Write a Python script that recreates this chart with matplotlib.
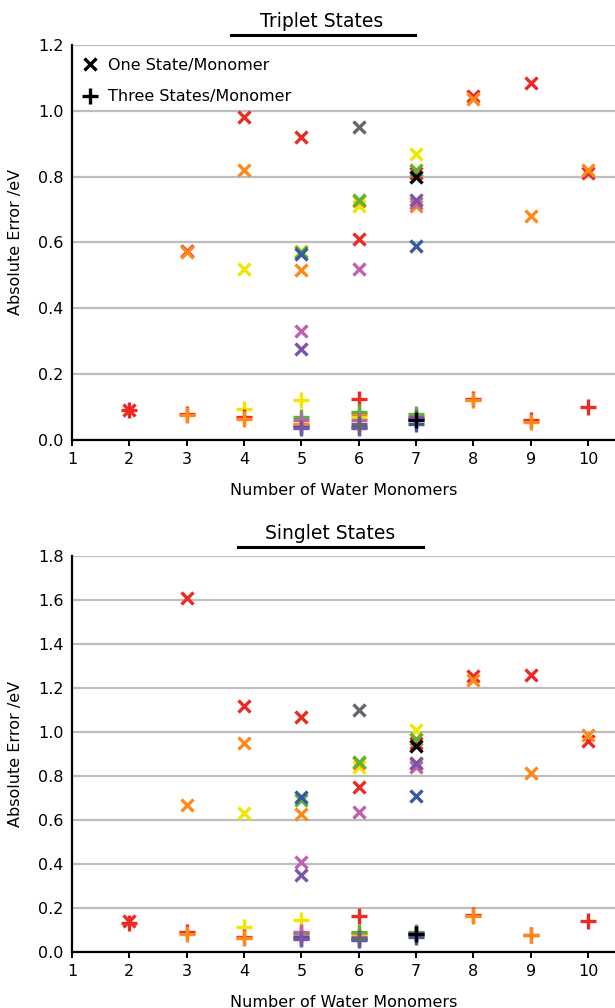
import numpy as np
import matplotlib
matplotlib.use('Agg')
import matplotlib.pyplot as plt
from matplotlib.lines import Line2D

nan = np.nan

# numero de monomeros de agua
n_water = [2, 3, 4, 5, 6, 7, 8, 9, 10]

# colores de cada metodo (en orden de dibujo)
colors = {
    'yellow': '#f2e600',
    'red': '#ee2a24',
    'orange': '#ff8a1c',
    'green': '#5cb531',
    'blue': '#3a58a8',
    'pink': '#c060b0',
    'purple': '#7a55a8',
    'gray': '#66676e',
    'black': '#000000',
}

# tripletes, un estado por monomero (x)
trip_one = {
    'yellow': [nan, nan, 0.52, 0.575, 0.71, 0.87, nan, nan, nan],
    'orange': [nan, 0.57, 0.82, 0.515, 0.725, 0.71, 1.035, 0.68, 0.82],
    'red':    [0.09, 0.575, 0.98, 0.92, 0.61, 0.81, 1.045, 1.085, 0.81],
    'green':  [nan, nan, nan, 0.57, 0.73, 0.82, nan, nan, nan],
    'blue':   [nan, nan, nan, 0.565, nan, 0.59, nan, nan, nan],
    'pink':   [nan, nan, nan, 0.33, 0.52, 0.72, nan, nan, nan],
    'purple': [nan, nan, nan, 0.275, nan, 0.73, nan, nan, nan],
    'gray':   [nan, nan, nan, nan, 0.95, nan, nan, nan, nan],
    'black':  [nan, nan, nan, nan, nan, 0.80, nan, nan, nan],
}

# tripletes, tres estados por monomero (+)
trip_three = {
    'yellow': [nan, nan, 0.095, 0.12, 0.07, 0.07, nan, nan, nan],
    'orange': [nan, 0.075, 0.065, 0.05, 0.08, 0.06, 0.12, 0.055, nan],
    'red':    [0.09, 0.08, 0.07, 0.045, 0.125, 0.065, 0.125, 0.06, 0.10],
    'green':  [nan, nan, nan, 0.07, 0.085, 0.08, nan, nan, nan],
    'blue':   [nan, nan, nan, 0.04, 0.04, 0.05, nan, nan, nan],
    'pink':   [nan, nan, nan, 0.06, 0.06, 0.065, nan, nan, nan],
    'purple': [nan, nan, nan, 0.035, 0.035, 0.07, nan, nan, nan],
    'gray':   [nan, nan, nan, nan, 0.05, nan, nan, nan, nan],
    'black':  [nan, nan, nan, nan, nan, 0.06, nan, nan, nan],
}

# singletes, un estado por monomero (x)
sing_one = {
    'yellow': [nan, nan, 0.63, 0.70, 0.84, 1.01, nan, nan, nan],
    'orange': [nan, 0.67, 0.95, 0.625, 0.86, 0.855, 1.235, 0.815, 0.985],
    'red':    [0.14, 1.61, 1.12, 1.07, 0.75, 0.95, 1.255, 1.26, 0.96],
    'green':  [nan, nan, nan, 0.69, 0.865, 0.97, nan, nan, nan],
    'blue':   [nan, nan, nan, 0.705, nan, 0.71, nan, nan, nan],
    'pink':   [nan, nan, nan, 0.41, 0.635, 0.84, nan, nan, nan],
    'purple': [nan, nan, nan, 0.35, nan, 0.86, nan, nan, nan],
    'gray':   [nan, nan, nan, nan, 1.10, nan, nan, nan, nan],
    'black':  [nan, nan, nan, nan, nan, 0.935, nan, nan, nan],
}

# singletes, tres estados por monomero (+)
sing_three = {
    'yellow': [nan, nan, 0.115, 0.145, 0.08, 0.085, nan, nan, nan],
    'orange': [nan, 0.08, 0.065, 0.08, 0.085, 0.08, 0.165, 0.075, nan],
    'red':    [0.13, 0.09, 0.07, 0.065, 0.165, 0.08, 0.17, 0.075, 0.14],
    'green':  [nan, nan, nan, 0.085, 0.09, 0.09, nan, nan, nan],
    'blue':   [nan, nan, nan, 0.07, 0.055, 0.07, nan, nan, nan],
    'pink':   [nan, nan, nan, 0.09, 0.07, 0.08, nan, nan, nan],
    'purple': [nan, nan, nan, 0.06, 0.06, 0.085, nan, nan, nan],
    'gray':   [nan, nan, nan, nan, 0.065, nan, nan, nan, nan],
    'black':  [nan, nan, nan, nan, nan, 0.08, nan, nan, nan],
}

plt.rcParams['font.family'] = ['DejaVu Sans']

fig = plt.figure(figsize=(6.15, 10.08), dpi=100)
ax_t = fig.add_axes([0.117, 0.5635, 0.883, 0.392])
ax_s = fig.add_axes([0.117, 0.0556, 0.883, 0.3928])


def draw_panel(ax, one, three, ymax):
    for name, col in colors.items():
        ax.plot(n_water, three[name], linestyle='none', marker='+', ms=11,
                mew=2.4, color=col, zorder=3)
        ax.plot(n_water, one[name], linestyle='none', marker='x', ms=8.5,
                mew=2.4, color=col, zorder=3)
    ax.set_xlim(1, 10.47)
    ax.set_ylim(0, ymax)
    ax.set_xticks(range(1, 11))
    ax.set_yticks(np.arange(0, ymax + 0.01, 0.2))
    ax.set_yticklabels(['%.1f' % v for v in np.arange(0, ymax + 0.01, 0.2)])
    ax.yaxis.grid(True, color='#bdbdbd', linewidth=1.6, zorder=0)
    ax.set_axisbelow(True)
    for s in ['top', 'right']:
        ax.spines[s].set_visible(False)
    ax.spines['left'].set_linewidth(1.6)
    ax.spines['bottom'].set_linewidth(1.6)
    ax.tick_params(axis='y', length=0, labelsize=11.5, pad=6)
    ax.tick_params(axis='x', length=4, width=1.4, labelsize=11.5, pad=5)
    ax.set_ylabel('Absolute Error /eV', fontsize=11.5, labelpad=11)
    ax.set_xlabel('Number of Water Monomers', fontsize=11.5, labelpad=11)


draw_panel(ax_t, trip_one, trip_three, 1.2)
draw_panel(ax_s, sing_one, sing_three, 1.8)

handles = [
    Line2D([], [], linestyle='none', marker='x', ms=8.5, mew=2.4, color='black'),
    Line2D([], [], linestyle='none', marker='+', ms=11, mew=2.4, color='black'),
]
ax_t.legend(handles, ['One State/Monomer', 'Three States/Monomer'],
            loc='upper left', frameon=False, fontsize=11.5, handlelength=1.0,
            handletextpad=0.6, labelspacing=1.05, borderaxespad=0.4,
            bbox_to_anchor=(-0.005, 1.0))

# titulos subrayados
fig.text(0.523, 0.979, 'Triplet States', ha='center', va='center', fontsize=13.5)
fig.add_artist(Line2D([0.375, 0.675], [0.965, 0.965], color='black', lw=2.2))
fig.text(0.537, 0.471, 'Singlet States', ha='center', va='center', fontsize=13.5)
fig.add_artist(Line2D([0.387, 0.687], [0.457, 0.457], color='black', lw=2.2))

fig.savefig('out.png', dpi=100)
